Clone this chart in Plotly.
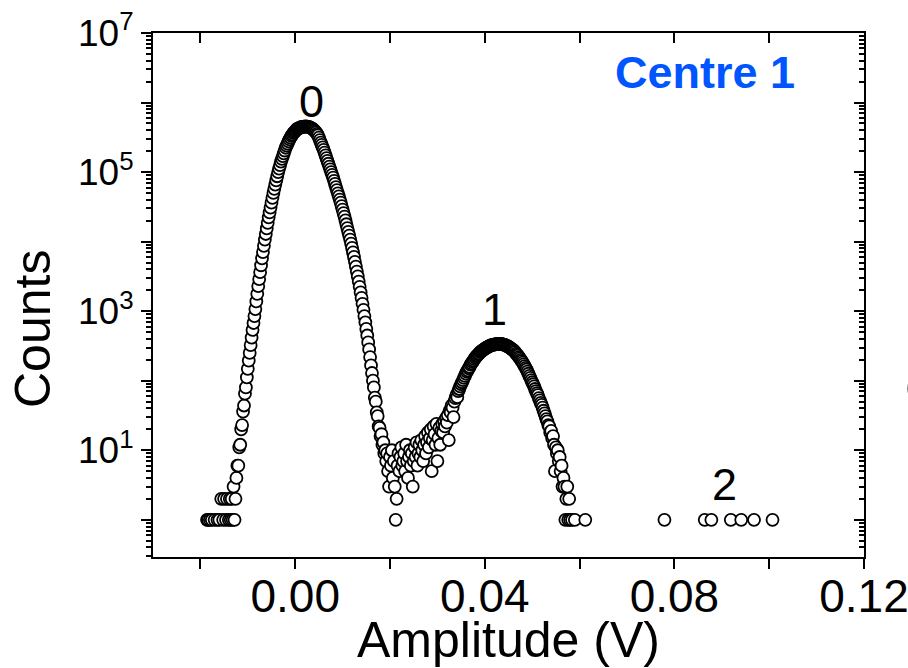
import numpy as np
import plotly.graph_objects as go

# ---------------- data ----------------
BIN = 0.0002  # histogram bin width (V)

# left tail of peak 0 (sparse low counts)
tail_left_x = [-0.0186, -0.0184, -0.0180, -0.0176, -0.0170, -0.0164, -0.0160, -0.0156,
               -0.0152, -0.0150, -0.0146, -0.0144, -0.0140, -0.0138, -0.0136, -0.0134, -0.0132]
tail_left_counts = [1, 1, 1, 1, 1, 1, 1, 2, 1, 2, 1, 2, 1, 2, 1, 2, 1]

# peak "0": bins from -0.0130 V to 0.0190 V
peak0_start = -0.0130
peak0_counts = [
    3, 1, 2, 4, 6, 6, 11, 12, 20, 23,
    36, 44, 65, 80, 112, 148, 195, 251, 324, 417,
    537, 676, 851, 1072, 1380, 1778, 2291, 2884, 3631, 4571,
    5754, 7079, 8710, 10720, 12880, 15490, 18620, 22390, 26300, 30900,
    36310, 42660, 50120, 57540, 66070, 75860, 87100, 100000, 112200, 125900,
    141300, 154900, 169800, 186200, 204200, 223900, 239900, 257000, 275400, 295100,
    312600, 331100, 346700, 363100, 375800, 389000, 402700, 416900, 421700, 426600,
    436500, 441600, 444600, 446700, 449800, 451900, 452900, 451900, 449800, 446700,
    441600, 436500, 429500, 421700, 410200, 398100, 384600, 371500, 354800, 338800,
    312600, 288400, 266100, 245500, 226500, 208900, 190500, 173800, 158500, 144500,
    131800, 120200, 109600, 100000, 91200, 83180, 74990, 67610, 60950, 54950,
    49550, 44670, 40270, 36310, 32360, 28840, 25700, 22910, 20180, 17780,
    15670, 13800, 12160, 10720, 9333, 8128, 7000, 6026, 5129, 4365,
    3715, 3162, 2661, 2239, 1862, 1549, 1274, 1047, 851, 692,
    556, 447, 355, 282, 219, 166, 129, 100, 80, 57,
    50, 35, 31, 22, 21, 16, 17, 12, 13, 9,
    10,
]

# valley between peaks: bins from 0.0192 V to 0.0300 V
valley_start = 0.0192
valley_counts = [
    7, 9, 5, 3, 8, 6, 10, 4, 7, 3,
    1, 2, 6, 9, 5, 8, 11, 6, 7, 9,
    5, 12, 7, 4, 8, 10, 6, 9, 3, 7,
    11, 8, 13, 6, 9, 12, 8, 14, 10, 7,
    12, 16, 9, 13, 18, 11, 15, 20, 5, 14,
    22, 17, 12, 24, 7,
]

# peak "1": bins from 0.0302 V to 0.0580 V
peak1_start = 0.0302
peak1_counts = [
    15, 21, 12, 19, 24, 18, 26, 22, 29, 25,
    32, 14, 37, 35, 44, 41, 30, 50, 56, 62,
    58, 71, 76, 83, 89, 95, 102, 110, 117, 126,
    135, 141, 151, 158, 170, 178, 186, 195, 204, 214,
    224, 229, 240, 245, 257, 263, 269, 275, 282, 288,
    295, 302, 305, 309, 316, 320, 324, 327, 330, 331,
    333, 336, 337, 339, 339, 337, 337, 335, 333, 331,
    327, 324, 316, 313, 309, 302, 295, 288, 282, 275,
    266, 257, 245, 237, 229, 219, 209, 200, 191, 182,
    172, 162, 153, 145, 135, 126, 117, 110, 102, 95,
    89, 83, 76, 71, 66, 62, 56, 52, 48, 45,
    41, 37, 34, 31, 28, 26, 23, 22, 18, 19,
    15, 16, 12, 5, 11, 9, 10, 7, 8, 5,
    6, 3, 4, 3, 1, 2, 3, 1, 2, 1,
]

# sparse single counts to the right ("2" region included)
tail_right_x = [0.0584, 0.0590, 0.0612, 0.0779, 0.0864, 0.0878, 0.0919, 0.0941, 0.0968, 0.1007]
tail_right_counts = [1, 1, 1, 1, 1, 1, 1, 1, 1, 1]

x_ticks = [-0.02, 0.00, 0.02, 0.04, 0.06, 0.08, 0.10, 0.12]
x_ticktext = ["", "0.00", "", "0.04", "", "0.08", "", "0.12"]
y_ticks = [1, 10, 100, 1e3, 1e4, 1e5, 1e6, 1e7]
y_ticktext = ["", "10<sup>1</sup>", "", "10<sup>3</sup>", "", "10<sup>5</sup>", "", "10<sup>7</sup>"]

# ---------------- assemble ----------------
def bins(start, n):
    return list(np.round(start + BIN * np.arange(n), 4))

xs = (tail_left_x + bins(peak0_start, len(peak0_counts)) + bins(valley_start, len(valley_counts))
      + bins(peak1_start, len(peak1_counts)) + tail_right_x)
ys = tail_left_counts + peak0_counts + valley_counts + peak1_counts + tail_right_counts

minor_vals = [m * 10.0 ** d for d in range(-1, 7) for m in range(2, 10)]
minor_vals = [v for v in minor_vals if v > 0.29]

FONT = "Liberation Sans, Arial, sans-serif"
XR = [-0.03, 0.12]
YR = [-0.535, 7]

fig = go.Figure()
fig.add_trace(go.Scatter(
    x=xs, y=ys, mode="markers",
    marker=dict(symbol="circle", size=12, color="white",
                line=dict(color="black", width=1.8)),
    showlegend=False, hoverinfo="x+y",
))
# empty trace to anchor the mirrored (top/right) axes
fig.add_trace(go.Scatter(x=[], y=[], xaxis="x2", yaxis="y2", showlegend=False))

axis_common = dict(showgrid=False, zeroline=False, showline=True, linecolor="black",
                   linewidth=2, tickcolor="black", tickwidth=2, ticklen=10, automargin=False)

fig.update_layout(
    width=908, height=668,
    margin=dict(l=153, r=44, t=33, b=111, autoexpand=False),
    paper_bgcolor="white", plot_bgcolor="white",
    font=dict(family=FONT, color="black"),
    xaxis=dict(range=XR, tickmode="array", tickvals=x_ticks, ticktext=x_ticktext,
               ticks="outside", tickfont=dict(size=46, family=FONT),
               ticklabeloverflow="allow", ticklabelstandoff=-12, **axis_common),
    xaxis2=dict(range=XR, overlaying="x", side="top", anchor="y", tickmode="array",
                tickvals=x_ticks, ticks="inside", showticklabels=False, **axis_common),
    yaxis=dict(type="log", range=YR, tickmode="array", tickvals=y_ticks, ticktext=y_ticktext,
               ticks="outside", tickfont=dict(size=37, family=FONT),
               minor=dict(tickmode="array", tickvals=minor_vals, ticks="outside",
                          ticklen=5, tickwidth=2, tickcolor="black", showgrid=False),
               **axis_common),
    yaxis2=dict(type="log", range=YR, overlaying="y", side="right", anchor="x",
                tickmode="array", tickvals=y_ticks, ticks="inside", showticklabels=False,
                minor=dict(tickmode="array", tickvals=minor_vals, ticks="inside",
                           ticklen=5, tickwidth=2, tickcolor="black", showgrid=False),
                **axis_common),
)

def px_x(p):
    return (p - 153) / 711.0

def px_y(p):
    return (557 - p) / 524.0

annots = [
    dict(text="Counts", x=px_x(33), y=px_y(329), textangle=-90, font=dict(size=50)),
    dict(text="Amplitude (V)", x=px_x(508), y=px_y(640), font=dict(size=50)),
    dict(text="0", x=px_x(311), y=px_y(101), font=dict(size=45)),
    dict(text="1", x=px_x(494), y=px_y(309), font=dict(size=45)),
    dict(text="2", x=px_x(724), y=px_y(484), font=dict(size=45)),
    dict(text="<b>Centre 1</b>", x=px_x(705), y=px_y(72), font=dict(size=45, color="#0055FF")),
    dict(text="Counts", x=px_x(926), y=px_y(329), textangle=-90, font=dict(size=50)),
]
for a in annots:
    fig.add_annotation(xref="paper", yref="paper", showarrow=False,
                       xanchor="center", yanchor="middle", **a)
    fig.layout.annotations[-1].font.family = FONT

fig.write_html("out.html")
